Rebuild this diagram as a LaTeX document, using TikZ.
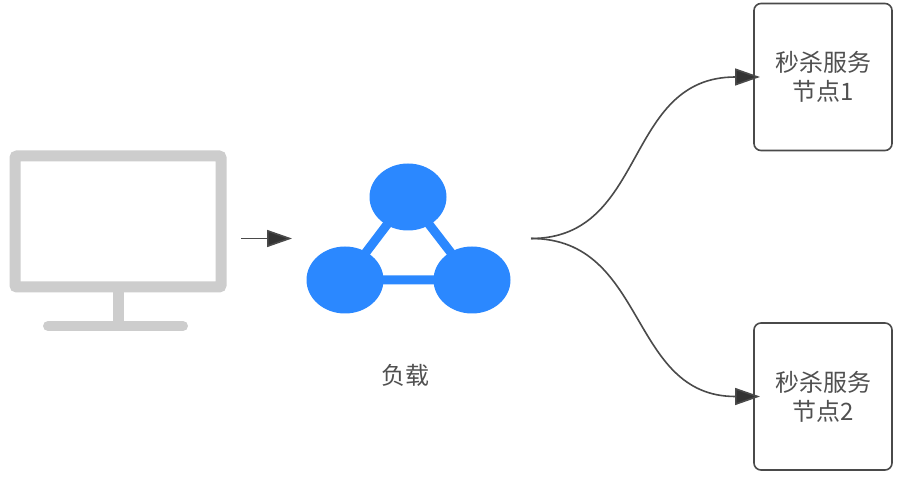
\documentclass[tikz,border=0pt]{standalone}
\usepackage{fontspec}
\setmainfont{Noto Sans CJK SC}
\usetikzlibrary{arrows.meta, shapes.geometric}

\tikzset{
  screen/.style={draw=screengray, line width=11pt, rounded corners=2pt, inner sep=0pt,
    minimum width=206pt, minimum height=131pt},
  hub/.style={ellipse, fill=hubblue, inner sep=0pt, minimum width=77pt, minimum height=67pt},
  service/.style={draw=linegray, line width=1.6pt, rounded corners=7pt, inner sep=0pt,
    minimum width=138pt, minimum height=147pt, align=center, text=textgray,
    font=\fontsize{24}{29}\selectfont},
  flow/.style={draw=linegray, line width=1.6pt,
    -{Triangle[length=25pt, width=17pt, fill=tipgray]}},
  caption/.style={text=textgray, font=\fontsize{24}{29}\selectfont}
}
\definecolor{screengray}{HTML}{CDCDCD}
\definecolor{hubblue}{HTML}{2B88FF}
\definecolor{linegray}{HTML}{4A4A4A}
\definecolor{tipgray}{HTML}{333333}
\definecolor{textgray}{HTML}{505050}

\begin{document}
\begin{tikzpicture}[x=1pt, y=-1pt]
    \useasboundingbox (0,0) rectangle (908,478);

    % monitor
    \draw[screengray, line width=11pt] (118,292) -- (118,326);
    \draw[screengray, line width=10pt, line cap=round] (48,326) -- (183,326);
    \node[screen] (pc) at (118,221.5) {};

    % load balancer
    \coordinate (hubtop) at (408,197);
    \coordinate (hubleft) at (345,280);
    \coordinate (hubright) at (472,280);
    \draw[hubblue, line width=9pt] (hubtop) -- (hubleft) -- (hubright) -- cycle;
    \node[hub] (h1) at (hubtop) {};
    \node[hub] (h2) at (hubleft) {};
    \node[hub] (h3) at (hubright) {};
    \node[caption] (lb) at (405,375) {负载};

    % service nodes
    \node[service] (s1) at (823,77) {秒杀服务\\节点1};
    \node[service] (s2) at (823,396.5) {秒杀服务\\节点2};

    \coordinate (in) at (241,238.5);
    \coordinate (inend) at (292,238.5);
    \coordinate (out) at (531,238.5);
    \coordinate (s1in) at (760,77);
    \coordinate (s2in) at (760,396.5);

    \draw[flow] (in) -- (inend);
    \draw[flow] (out) .. controls (648,238.5) and (623,77) .. (s1in);
    \draw[flow] (out) .. controls (648,238.5) and (628,396.5) .. (s2in);
  \end{tikzpicture}
\end{document}
